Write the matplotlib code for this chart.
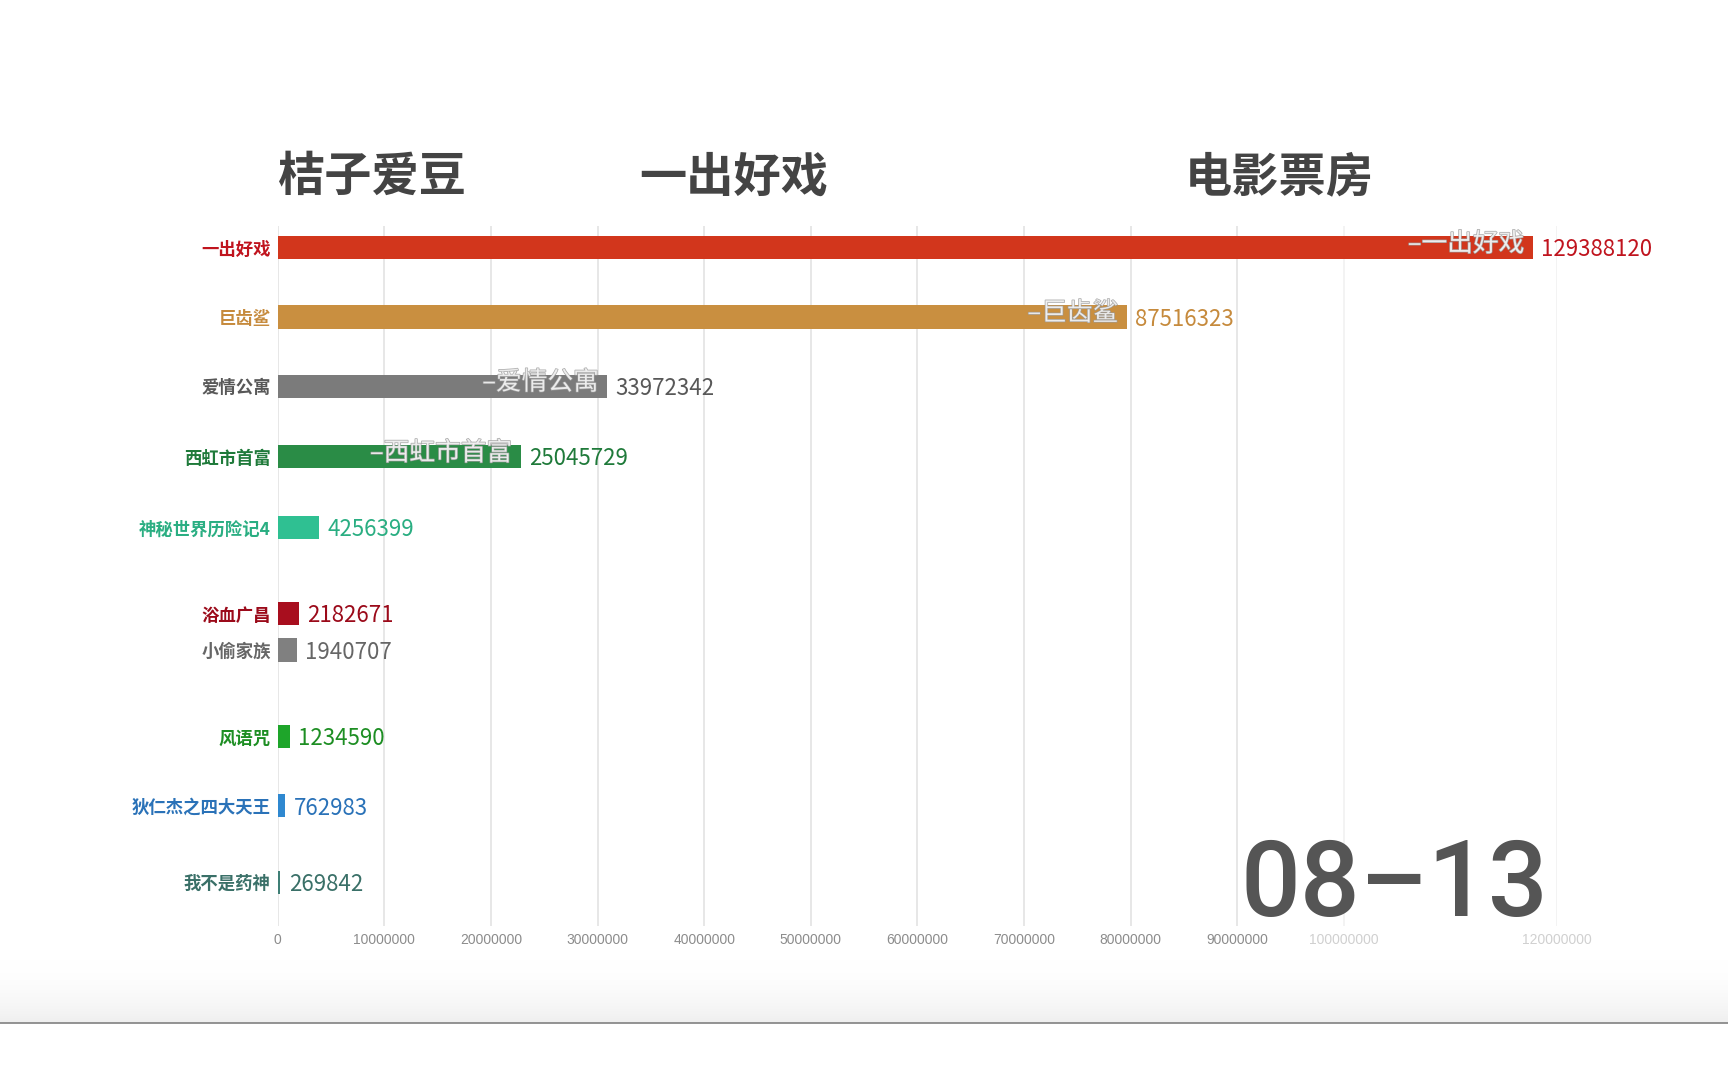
import numpy as np
import matplotlib.pyplot as plt
import matplotlib.patheffects as pe
from matplotlib.lines import Line2D
from matplotlib.colors import LinearSegmentedColormap

plt.rcParams['font.family'] = ['Noto Sans CJK SC', 'DejaVu Sans']

# data (frame 08-13 of the box office race)
films = ['一出好戏', '巨齿鲨', '爱情公寓', '西虹市首富', '神秘世界历险记4',
         '浴血广昌', '小偷家族', '风语咒', '狄仁杰之四大天王', '我不是药神']
box_office = [129388120, 87516323, 33972342, 25045729, 4256399,
              2182671, 1940707, 1234590, 762983, 269842]
bar_colors = ['#d2361c', '#c98f40', '#7b7b7b', '#2a8c46', '#2fc092',
              '#a80e1e', '#808080', '#1ea52a', '#2f88d0', '#3f7f76']
text_colors = ['#c0141e', '#c68a3c', '#585858', '#1f7a3a', '#2aae82',
               '#9b0a1a', '#666666', '#1d8e23', '#2a72b8', '#3a7068']
# rows are caught mid-animation, so they are not evenly spaced
slots = [0, 0.99, 1.98, 2.99, 4.0, 5.23, 5.75, 6.99, 7.98, 9.07]
inner_count = 4

grid_ticks = [0, 10000000, 20000000, 30000000, 40000000, 50000000,
              60000000, 70000000, 80000000, 90000000, 100000000, 120000000]
grid_labels = [str(t) for t in grid_ticks]
titles = ['桔子爱豆', '一出好戏', '电影票房']
date_label = '08–13'

fig = plt.figure(figsize=(17.28, 10.8), dpi=100)

# bottom shading + rule
gax = fig.add_axes([0, 1 - 928 / 980, 1, 60 / 980])
shade = LinearSegmentedColormap.from_list('shade', ['#ffffff', '#efefef'])
gax.imshow(np.linspace(0, 1, 64)[:, None] ** 2, cmap=shade, aspect='auto',
           extent=(0, 1, 0, 1))
gax.axis('off')
fig.add_artist(Line2D([0, 1], [1 - 928 / 980] * 2, transform=fig.transFigure,
                      color='#8a8a8a', lw=1.3))

ax = fig.add_axes([0.1607, 0.143, 0.7404, 0.648])
ax.set_xlim(0, 120000000)
ax.set_ylim(9.69, -0.315)
ax.set_xticks(grid_ticks, grid_labels)
ax.grid(axis='x', color='#e3e3e3', lw=1.2)
ax.set_axisbelow(True)
for s in ax.spines.values():
    s.set_visible(False)
ax.tick_params(axis='x', length=0, pad=5, labelsize=10)
for lab, t in zip(ax.get_xticklabels(), grid_ticks):
    lab.set_family('Liberation Sans')
    lab.set_color('#d0d0d0' if t >= 100000000 else '#8c8c8c')
for gl, t in zip(ax.get_xgridlines(), grid_ticks):
    if t >= 100000000:
        gl.set_color('#f1f1f1')

ax.set_yticks(slots, films)
ax.tick_params(axis='y', length=0, pad=5, labelsize=12.5)
for lab, c in zip(ax.get_yticklabels(), text_colors):
    lab.set_color(c)
    lab.set_fontweight('bold')

# bars live on their own scale (they lead the grid in the animation)
bx = ax.twiny()
bx.set_xlim(0, 131900000)
bx.barh(slots, box_office, height=0.33, color=bar_colors)
bx.axis('off')

for i, (v, y) in enumerate(zip(box_office, slots)):
    bx.annotate(str(v), (v, y), xytext=(6, -1.5), textcoords='offset points',
                ha='left', va='center', fontsize=16, color=text_colors[i],
                annotation_clip=False)
    if i < inner_count:
        bx.annotate('–' + films[i], (v, y), xytext=(-6, 2.5),
                    textcoords='offset points', ha='right', va='center',
                    fontsize=18.5, color='#f4f4f4', alpha=0.85,
                    path_effects=[pe.withStroke(linewidth=1.0, foreground='#9a9a9a')])

for x, t in zip([0.1607, 0.370, 0.6856], titles):
    fig.text(x, 0.836, t, ha='left', va='center', fontsize=34,
             fontweight='bold', color='#444444')

fig.text(0.896, 0.152, date_label, ha='right', va='baseline', fontsize=76,
         family='Roboto', fontweight='medium', color='#555555')

fig.savefig('out.png', dpi=100)
